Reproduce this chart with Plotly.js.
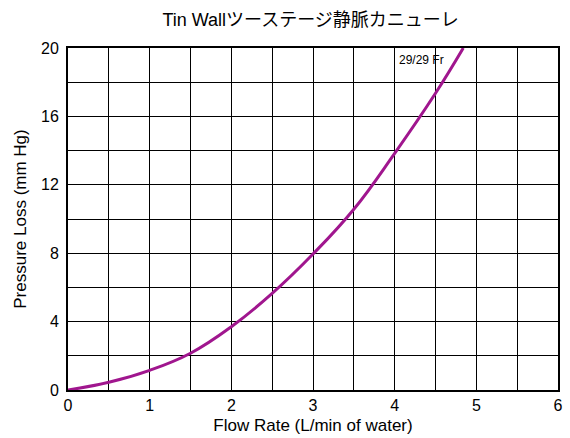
<!DOCTYPE html>
<html>
<head>
<meta charset="utf-8">
<script src="https://cdn.plot.ly/plotly-3.0.1.min.js"></script>
<style>html,body{margin:0;padding:0;background:#fff;}#chart{width:570px;height:438px;}</style>
</head>
<body>
<div id="chart"></div>
<script>
const flowRate = [0, 0.5, 1, 1.5, 2, 2.5, 3, 3.5, 4, 4.5, 4.84];
const pressureLoss = [0, 0.45, 1.15, 2.15, 3.7, 5.65, 7.95, 10.57, 13.84, 17.35, 20];
const xTicks = [0, 1, 2, 3, 4, 5, 6];
const yTicks = [0, 4, 8, 12, 16, 20];
const seriesLabel = "29/29 Fr";
const chartTitle = "Tin Wallツーステージ静脈カニューレ";
const xTitle = "Flow Rate (L/min of water)";
const yTitle = "Pressure Loss (mm Hg)";

const font = "Liberation Sans, Arial, Noto Sans CJK JP, sans-serif";

Plotly.newPlot("chart", [{
  x: flowRate, y: pressureLoss, type: "scatter", mode: "lines",
  line: {color: "#A0168E", width: 3, shape: "spline", smoothing: 1.2},
  hoverinfo: "none", showlegend: false, cliponaxis: true
}], {
  width: 570, height: 438,
  margin: {l: 68, r: 12, t: 48, b: 48},
  paper_bgcolor: "#fff", plot_bgcolor: "#fff",
  font: {family: font, color: "#000"},
  title: {text: chartTitle, x: 0.545, xanchor: "center", y: 0.955, yanchor: "middle", font: {size: 18, family: font, color: "#000"}},
  xaxis: {
    range: [0, 6], tickvals: xTicks, ticktext: xTicks.map(String),
    showgrid: true, gridcolor: "#000", gridwidth: 1,
    minor: {dtick: 0.5, showgrid: true, gridcolor: "#000", gridwidth: 1},
    showline: true, linecolor: "#000", linewidth: 2, mirror: true,
    ticks: "", zeroline: false, tickfont: {size: 16}, ticklabelstandoff: 0,
    title: {text: xTitle, font: {size: 17}, standoff: 6}
  },
  yaxis: {
    range: [0, 20], tickvals: yTicks, ticktext: yTicks.map(String),
    showgrid: true, gridcolor: "#000", gridwidth: 1,
    minor: {dtick: 2, showgrid: true, gridcolor: "#000", gridwidth: 1},
    showline: true, linecolor: "#000", linewidth: 2, mirror: true,
    ticks: "", zeroline: false, tickfont: {size: 16}, ticklabelstandoff: 4,
    title: {text: yTitle, font: {size: 17}, standoff: 10}
  },
  annotations: [{
    x: 4.33, y: 19.3, xref: "x", yref: "y", text: seriesLabel, showarrow: false,
    font: {size: 12, color: "#000"}, xanchor: "center", yanchor: "middle"
  }]
}, {staticPlot: true});
</script>
</body>
</html>
